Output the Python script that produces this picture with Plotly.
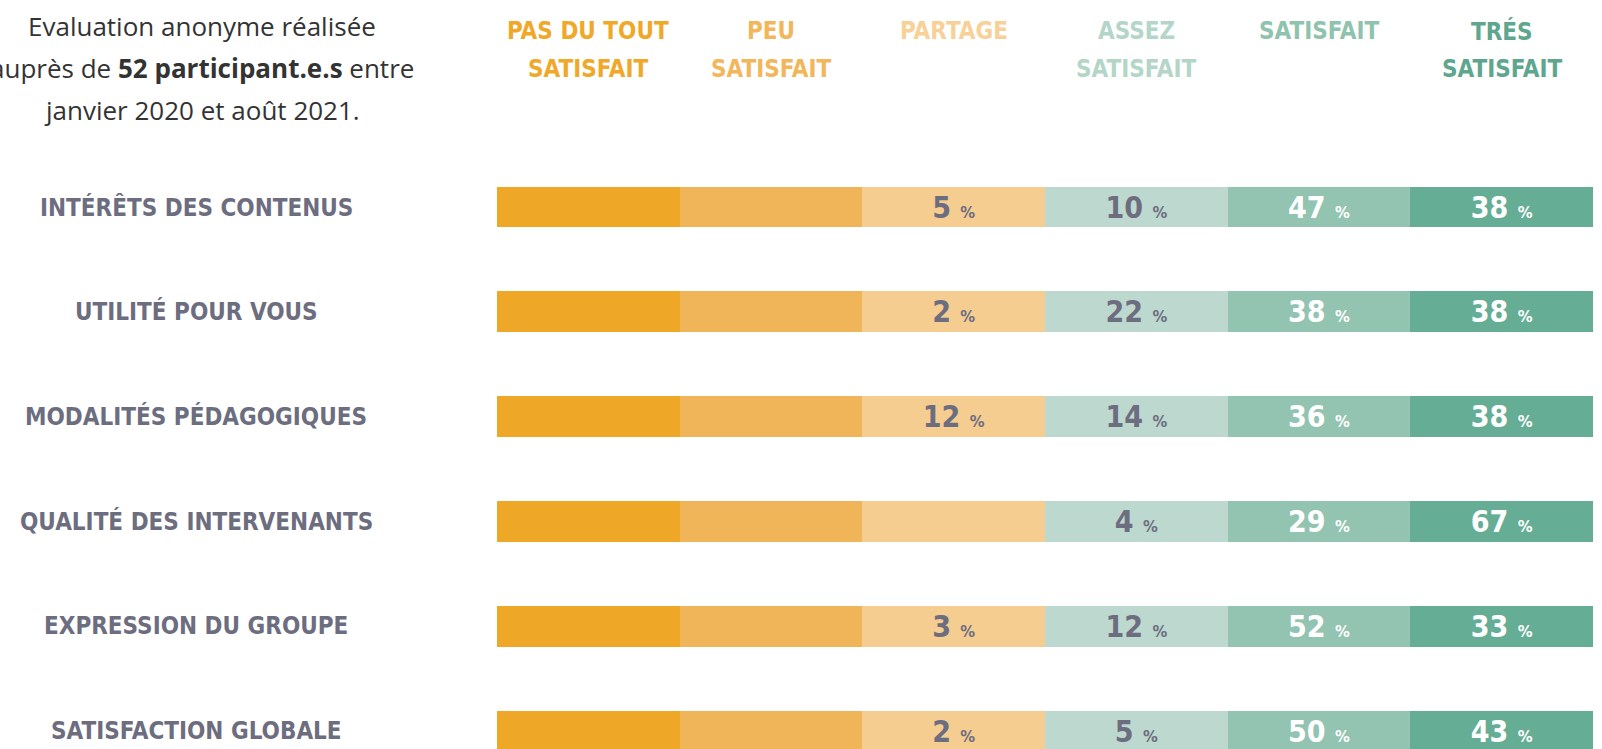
import plotly.graph_objects as go

# ---- data ----
criteria = [
    "INTÉRÊTS DES CONTENUS",
    "UTILITÉ POUR VOUS",
    "MODALITÉS PÉDAGOGIQUES",
    "QUALITÉ DES INTERVENANTS",
    "EXPRESSION DU GROUPE",
    "SATISFACTION GLOBALE",
]
levels = [
    "PAS DU TOUT<br>SATISFAIT",
    "PEU<br>SATISFAIT",
    "PARTAGE",
    "ASSEZ<br>SATISFAIT",
    "SATISFAIT",
    "TRÉS<br>SATISFAIT",
]
pas_du_tout = [0, 0, 0, 0, 0, 0]
peu = [0, 0, 0, 0, 0, 0]
partage = [5, 2, 12, 0, 3, 2]
assez = [10, 22, 14, 4, 12, 5]
satisfait = [47, 38, 36, 29, 52, 50]
tres = [38, 38, 38, 67, 33, 43]
series = [pas_du_tout, peu, partage, assez, satisfait, tres]

intro_lines = [
    "Evaluation anonyme réalisée",
    "auprès de <b>52 participant.e.s</b> entre",
    "janvier 2020 et août 2021.",
]

# ---- style ----
cell_colors = ["#EFA727", "#F0B558", "#F5CD90", "#BDD8CE", "#93C3B1", "#66AD96"]
head_colors = ["#F0A828", "#F2B75A", "#F7D197", "#B3D6C8", "#8FC3AE", "#5EA68D"]
text_colors = ["#6d6d80", "#6d6d80", "#6d6d80", "#6d6d80", "#ffffff", "#ffffff"]
gray = "#6d6d80"
hand = "DejaVu Sans Condensed"

W, H = 1602, 749
x0_px, x1_px = 497, 1593
row0_px, row_step = 207, 104.8


def py(px):
    """pixel row (from top) -> paper fraction"""
    return 1 - px / H


fig = go.Figure()
rows = list(range(len(criteria)))
for j, vals in enumerate(series):
    txt = [f"{v} <span style='font-size:17px'>%</span>" if v > 0 else "" for v in vals]
    fig.add_trace(go.Bar(
        orientation="h",
        y=rows,
        x=[1] * len(rows),
        width=0.39,
        marker=dict(color=cell_colors[j], line=dict(width=0)),
        text=txt,
        textposition="inside",
        insidetextanchor="middle",
        textangle=0,
        textfont=dict(family=hand, size=31, color=text_colors[j], weight="bold"),
        hoverinfo="skip",
        showlegend=False,
    ))

# headers (one annotation per line to control spacing)
for j, lab in enumerate(levels):
    for k, line in enumerate(lab.split("<br>")):
        fig.add_annotation(
            x=j + 0.5, xref="x", y=py(31 + 38 * k), yref="paper",
            text=line, showarrow=False, xanchor="center", yanchor="middle",
            font=dict(family=hand, size=24, color=head_colors[j], weight="bold"),
        )

# row labels
for i, lab in enumerate(criteria):
    fig.add_annotation(
        x=196 / W, xref="paper", y=i, yref="y",
        text=lab, showarrow=False, xanchor="center", yanchor="middle",
        font=dict(family=hand, size=24, color=gray, weight="bold"),
    )

# intro text
for k, line in enumerate(intro_lines):
    fig.add_annotation(
        x=202 / W, xref="paper", y=py(26 + 42 * k), yref="paper",
        text=line, showarrow=False, xanchor="center", yanchor="middle",
        font=dict(family="Open Sans", size=26, color="#333333"),
    )

y_top = (0 - row0_px) / row_step
y_bot = (H - row0_px) / row_step

fig.update_layout(
    width=W, height=H,
    margin=dict(l=0, r=0, t=0, b=0),
    barmode="stack",
    plot_bgcolor="white", paper_bgcolor="white",
    xaxis=dict(domain=[x0_px / W, x1_px / W], range=[0, 6], visible=False, fixedrange=True),
    yaxis=dict(range=[y_bot, y_top], visible=False, fixedrange=True),
)

fig.write_html(
    "out.html",
    config={"displayModeBar": False},
    post_script="document.body.style.margin='0';document.body.style.overflow='hidden';",
)
